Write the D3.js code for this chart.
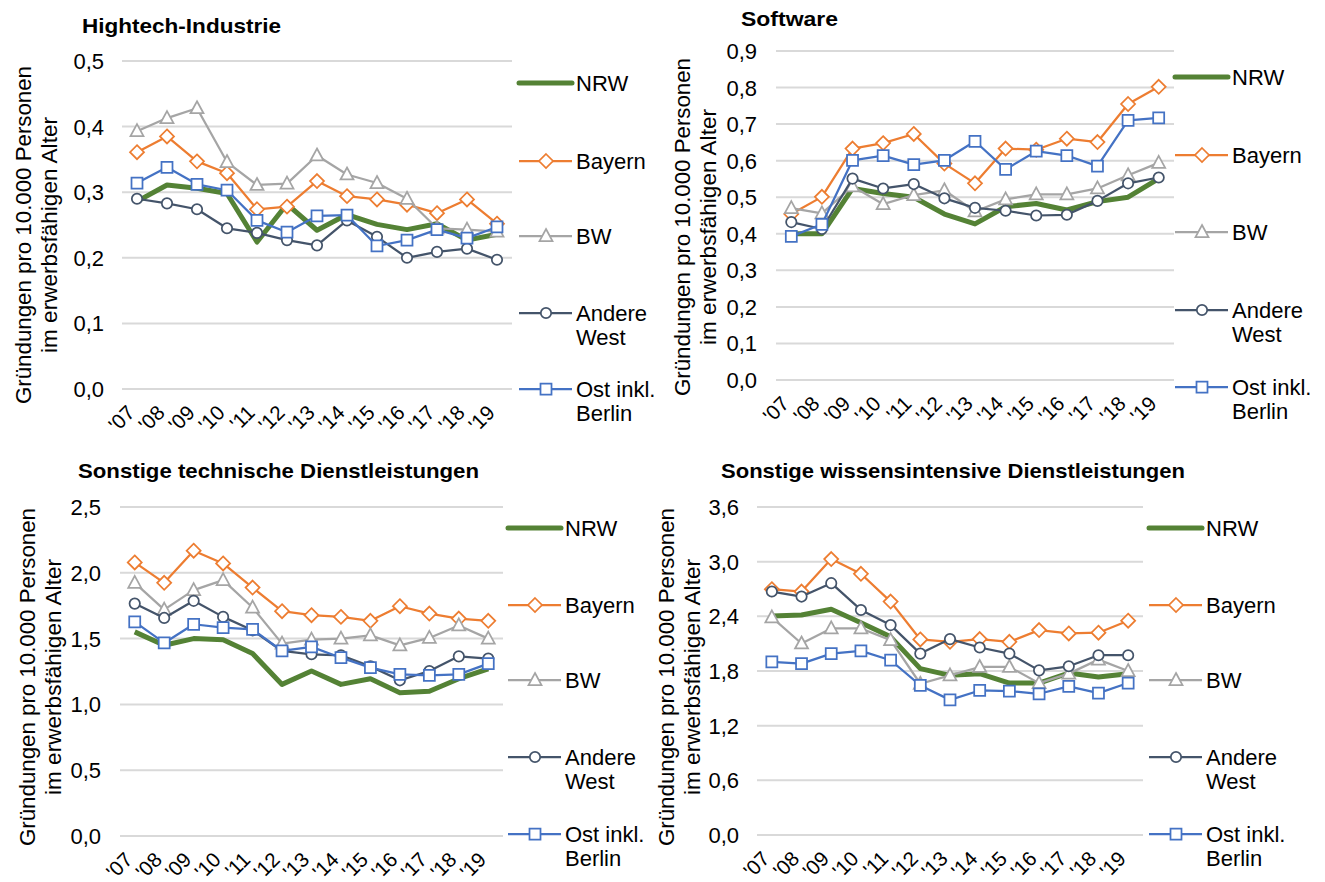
<!DOCTYPE html>
<html><head><meta charset="utf-8">
<script src="https://cdn.jsdelivr.net/npm/d3@7"></script>
<style>
html,body{margin:0;padding:0;background:#fff;}
svg{display:block;}
</style></head>
<body>
<svg id="chart" width="1325" height="882"></svg>
<script>
// ---------- DATA ----------
const years = ["'07","'08","'09","'10","'11","'12","'13","'14","'15","'16","'17","'18","'19"];
const seriesNames = ["NRW","Bayern","BW","Andere West","Ost inkl. Berlin"];

// Hightech-Industrie
const hightechNRW    = [0.286,0.311,0.306,0.298,0.224,0.282,0.242,0.266,0.251,0.243,0.252,0.227,0.236];
const hightechBayern = [0.361,0.385,0.347,0.329,0.274,0.278,0.317,0.294,0.289,0.281,0.268,0.289,0.252];
const hightechBW     = [0.393,0.413,0.428,0.346,0.311,0.313,0.356,0.327,0.314,0.290,0.245,0.243,0.240];
const hightechAndere = [0.290,0.283,0.274,0.245,0.238,0.227,0.219,0.257,0.232,0.200,0.209,0.214,0.197];
const hightechOst    = [0.314,0.338,0.312,0.303,0.257,0.239,0.264,0.265,0.218,0.227,0.243,0.230,0.247];

// Software
const softwareNRW    = [0.400,0.400,0.524,0.510,0.500,0.454,0.427,0.474,0.483,0.465,0.488,0.500,0.551];
const softwareBayern = [0.454,0.501,0.633,0.648,0.673,0.592,0.538,0.633,0.630,0.660,0.651,0.755,0.802];
const softwareBW     = [0.470,0.456,0.530,0.481,0.506,0.519,0.461,0.494,0.508,0.508,0.524,0.560,0.594];
const softwareAndere = [0.432,0.413,0.551,0.524,0.536,0.497,0.471,0.463,0.450,0.452,0.490,0.538,0.554];
const softwareOst    = [0.393,0.426,0.601,0.614,0.589,0.601,0.653,0.576,0.626,0.614,0.585,0.710,0.717];

// Sonstige technische Dienstleistungen
const technNRW    = [1.551,1.449,1.500,1.492,1.386,1.152,1.254,1.152,1.195,1.089,1.100,1.195,1.270];
const technBayern = [2.079,1.924,2.168,2.071,1.888,1.708,1.678,1.665,1.635,1.746,1.690,1.652,1.635];
const technBW     = [1.924,1.720,1.868,1.944,1.736,1.462,1.492,1.500,1.525,1.449,1.505,1.600,1.500];
const technAndere = [1.766,1.657,1.787,1.665,1.563,1.406,1.381,1.373,1.289,1.183,1.254,1.365,1.348];
const technOst    = [1.627,1.467,1.609,1.584,1.571,1.406,1.437,1.355,1.279,1.228,1.221,1.228,1.310];

// Sonstige wissensintensive Dienstleistungen
const wissenNRW    = [2.404,2.415,2.477,2.330,2.175,1.826,1.752,1.771,1.667,1.667,1.778,1.734,1.771];
const wissenBayern = [2.698,2.672,3.029,2.867,2.562,2.146,2.120,2.150,2.120,2.249,2.212,2.220,2.352];
const wissenBW     = [2.389,2.102,2.267,2.267,2.139,1.660,1.752,1.844,1.844,1.667,1.771,1.925,1.800];
const wissenAndere = [2.672,2.617,2.764,2.470,2.304,1.991,2.150,2.058,1.991,1.807,1.852,1.973,1.973];
const wissenOst    = [1.899,1.881,1.991,2.021,1.918,1.642,1.483,1.586,1.579,1.550,1.631,1.557,1.668];

const titles = ["Hightech-Industrie","Software","Sonstige technische Dienstleistungen","Sonstige wissensintensive Dienstleistungen"];
const yTicks1 = [0,0.1,0.2,0.3,0.4,0.5];
const yTicks2 = [0,0.1,0.2,0.3,0.4,0.5,0.6,0.7,0.8,0.9];
const yTicks3 = [0,0.5,1.0,1.5,2.0,2.5];
const yTicks4 = [0,0.6,1.2,1.8,2.4,3.0,3.6];
const axisTitle1 = "Gründungen pro 10.000 Personen";
const axisTitle2 = "im erwerbsfähigen Alter";

// ---------- STYLE / LAYOUT ----------
const colors = ["#548235","#ED7D31","#A5A5A5","#44546A","#4472C4"];
const symbols = [null,"diamond","triangle","circle","square"];
const font = "'Liberation Sans',Arial,sans-serif";

const panels = [
  {title:titles[0], ticks:yTicks1, max:0.5, data:[hightechNRW,hightechBayern,hightechBW,hightechAndere,hightechOst],
   x0:122, x1:512, y0:61, y1:389, tickX:104, titleX:82, titleY:25, titleW:199, at1:24, at2:50, atY:235,
   legX:519, legY:[83,161,236,313,389]},
  {title:titles[1], ticks:yTicks2, max:0.9, data:[softwareNRW,softwareBayern,softwareBW,softwareAndere,softwareOst],
   x0:776, x1:1174, y0:51, y1:380, tickX:757, titleX:741, titleY:18, titleW:97, at1:683, at2:709, atY:227,
   legX:1175, legY:[77,155,232,310,387]},
  {title:titles[2], ticks:yTicks3, max:2.5, data:[technNRW,technBayern,technBW,technAndere,technOst],
   x0:120, x1:503, y0:507, y1:836, tickX:101, titleX:78, titleY:470, titleW:401, at1:28, at2:54, atY:677,
   legX:508, legY:[528,605,680,757,834]},
  {title:titles[3], ticks:yTicks4, max:3.6, data:[wissenNRW,wissenBayern,wissenBW,wissenAndere,wissenOst],
   x0:757, x1:1143, y0:507, y1:835, tickX:739, titleX:721, titleY:470, titleW:464, at1:667, at2:693, atY:677,
   legX:1149, legY:[528,605,680,757,834]}
];

function markerPath(type){
  if(type==="diamond") return "M0,-7L7,0L0,7L-7,0Z";
  if(type==="square") return "M-5.5,-5.5H5.5V5.5H-5.5Z";
  if(type==="triangle") return "M0,-7L6.5,5L-6.5,5Z";
  if(type==="circle") return d3.symbol(d3.symbolCircle, Math.PI*27)();
  return "";
}
const fmt = v => d3.format(".1f")(v).replace(".",",");

const svg = d3.select("#chart");

panels.forEach(p=>{
  const g = svg.append("g");
  const x = d3.scalePoint().domain(years).range([p.x0,p.x1]).padding(0.5);
  const y = d3.scaleLinear().domain([0,p.max]).range([p.y1,p.y0]);

  // gridlines
  g.selectAll("line.grid").data(p.ticks).join("line")
    .attr("x1",p.x0).attr("x2",p.x1)
    .attr("y1",d=>y(d)).attr("y2",d=>y(d))
    .attr("stroke","#D9D9D9").attr("stroke-width",2);

  // y tick labels
  g.selectAll("text.yt").data(p.ticks).join("text")
    .attr("x",p.tickX).attr("y",d=>y(d)+8)
    .attr("text-anchor","end")
    .attr("font-family",font).attr("font-size",22).attr("fill","#000")
    .text(fmt);

  // x tick labels rotated
  g.selectAll("text.xt").data(years).join("text")
    .attr("transform",d=>`translate(${x(d)-1},${p.y1+25}) rotate(-45)`)
    .attr("text-anchor","end")
    .attr("font-family",font).attr("font-size",20.5).attr("fill","#000")
    .text(d=>d);

  // axis title
  g.append("text").attr("font-family",font).attr("font-size",21.5).attr("fill","#000")
    .attr("text-anchor","middle").attr("dominant-baseline","central")
    .attr("textLength",338).attr("lengthAdjust","spacingAndGlyphs")
    .attr("transform",`translate(${p.at1},${p.atY}) rotate(-90)`).text(axisTitle1);
  g.append("text").attr("font-family",font).attr("font-size",21.5).attr("fill","#000")
    .attr("text-anchor","middle").attr("dominant-baseline","central")
    .attr("textLength",236).attr("lengthAdjust","spacingAndGlyphs")
    .attr("transform",`translate(${p.at2},${p.atY}) rotate(-90)`).text(axisTitle2);

  // title
  g.append("text").attr("x",p.titleX).attr("y",p.titleY)
    .attr("dominant-baseline","central")
    .attr("font-family",font).attr("font-weight","bold").attr("font-size",21).attr("fill","#000")
    .attr("textLength",p.titleW).attr("lengthAdjust","spacingAndGlyphs")
    .text(p.title);

  // series
  const line = d3.line().x((d,i)=>x(years[i])).y(d=>y(d));
  p.data.forEach((vals,si)=>{
    g.append("path").attr("d",line(vals)).attr("fill","none")
      .attr("stroke",colors[si]).attr("stroke-width",si===0?5:2.25)
      .attr("stroke-linejoin","round");
    if(symbols[si]){
      g.selectAll(null).data(vals).join("path")
        .attr("transform",(d,i)=>`translate(${x(years[i])},${y(d)})`)
        .attr("d",markerPath(symbols[si]))
        .attr("fill","#fff").attr("stroke",colors[si]).attr("stroke-width",1.75);
    }
  });

  // legend
  seriesNames.forEach((name,si)=>{
    const ly = p.legY[si];
    g.append("line").attr("x1",p.legX).attr("x2",p.legX+53).attr("y1",ly).attr("y2",ly)
      .attr("stroke",colors[si]).attr("stroke-width",si===0?5:2.25)
      .attr("stroke-linecap",si===0?"round":"butt");
    if(symbols[si]){
      g.append("path").attr("transform",`translate(${p.legX+27},${ly})`)
        .attr("d",markerPath(symbols[si]))
        .attr("fill","#fff").attr("stroke",colors[si]).attr("stroke-width",1.75);
    }
    const parts = name==="Andere West" ? ["Andere","West"] : name==="Ost inkl. Berlin" ? ["Ost inkl.","Berlin"] : [name];
    const t = g.append("text").attr("font-family",font).attr("font-size",22).attr("fill","#000");
    parts.forEach((s,k)=>{
      t.append("tspan").attr("x",p.legX+57).attr("y",ly+8+k*24).text(s);
    });
  });
});
</script>
</body></html>
